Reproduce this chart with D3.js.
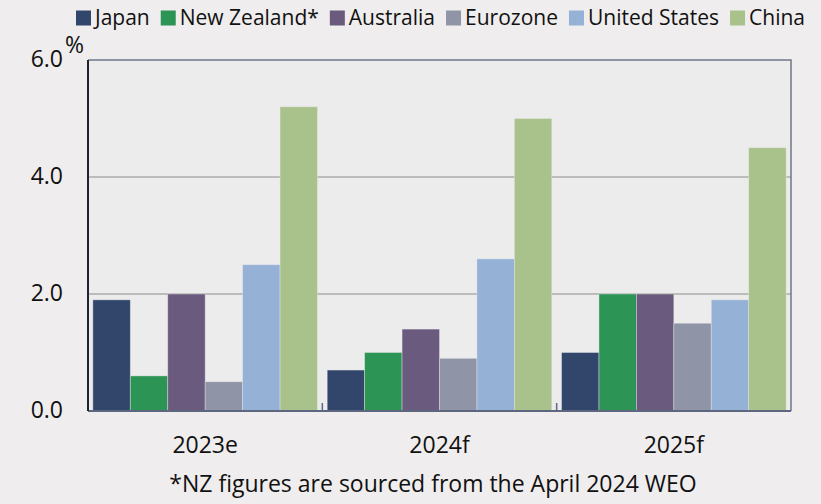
<!DOCTYPE html>
<html>
<head>
<meta charset="utf-8">
<script src="https://cdn.jsdelivr.net/npm/d3@7"></script>
<style>
  body { margin: 0; background: #efeded; }
  svg { display: block; font-family: "Open Sans", sans-serif; }
</style>
</head>
<body>
<svg id="chart" width="821" height="504"></svg>
<script>
// Data
var years = ["2023e", "2024f", "2025f"];
var economies = ["Japan", "New Zealand*", "Australia", "Eurozone", "United States", "China"];
var colours = ["#32466b", "#2c9556", "#6a5a7e", "#8f95a6", "#95b1d6", "#a9c28b"];
var japan = [1.9, 0.7, 1.0];
var newZealand = [0.6, 1.0, 2.0];
var australia = [2.0, 1.4, 2.0];
var eurozone = [0.5, 0.9, 1.5];
var unitedStates = [2.5, 2.6, 1.9];
var china = [5.2, 5.0, 4.5];
var yTicks = [0, 2, 4, 6];

var series = [japan, newZealand, australia, eurozone, unitedStates, china];

var svg = d3.select("#chart");
var margin = { left: 88, right: 30, top: 60, bottom: 93 };
var width = 821 - margin.left - margin.right;
var height = 504 - margin.top - margin.bottom;

// Background
svg.append("rect").attr("width", 821).attr("height", 504).attr("fill", "#efeded");

var g = svg.append("g").attr("transform", "translate(" + margin.left + "," + margin.top + ")");

var x0 = d3.scaleBand().domain(years).range([0, width]);
var x1 = d3.scaleBand().domain(economies)
  .range([0, x0.bandwidth()]).paddingOuter(0.13);
var y = d3.scaleLinear().domain([0, 6]).range([height, 0]);

// Plot area
g.append("rect")
  .attr("width", width)
  .attr("height", height)
  .attr("fill", "#ececec");

// Gridlines
g.selectAll(".grid")
  .data(yTicks.filter(function(d) { return d > 0 && d < 6; }))
  .enter().append("line")
  .attr("x1", 0).attr("x2", width)
  .attr("y1", function(d) { return y(d); })
  .attr("y2", function(d) { return y(d); })
  .attr("stroke", "#adadad")
  .attr("stroke-width", 1.5);

// Bars
var group = g.selectAll(".year")
  .data(years)
  .enter().append("g")
  .attr("transform", function(d) { return "translate(" + x0(d) + ",0)"; });

group.selectAll("rect")
  .data(function(d, i) {
    return economies.map(function(e, j) { return { key: e, idx: j, value: series[j][i] }; });
  })
  .enter().append("rect")
  .attr("x", function(d) { return x1(d.key); })
  .attr("width", x1.bandwidth())
  .attr("y", function(d) { return y(d.value); })
  .attr("height", function(d) { return height - y(d.value); })
  .attr("fill", function(d) { return colours[d.idx]; })
  .attr("stroke", "rgba(235,235,240,0.5)")
  .attr("stroke-width", 0.8);

// Frame: top and right borders
g.append("path")
  .attr("d", "M0,0H" + width + "V" + height)
  .attr("fill", "none")
  .attr("stroke", "#6f7787")
  .attr("stroke-width", 1.5);

// X axis with ticks on category boundaries
g.append("line")
  .attr("x1", 0).attr("x2", width)
  .attr("y1", height).attr("y2", height)
  .attr("stroke", "#5d6880")
  .attr("stroke-width", 2);

g.selectAll(".xtick")
  .data(years.slice(1))
  .enter().append("line")
  .attr("x1", function(d) { return x0(d); })
  .attr("x2", function(d) { return x0(d); })
  .attr("y1", height).attr("y2", height - 8)
  .attr("stroke", "#5d6880")
  .attr("stroke-width", 1.5);

g.selectAll(".xlabel")
  .data(years)
  .enter().append("text")
  .attr("x", function(d) { return x0(d) + x0.bandwidth() / 2; })
  .attr("y", height + 42)
  .attr("text-anchor", "middle")
  .attr("font-size", 23)
  .attr("fill", "#111")
  .text(function(d) { return d; });

// Y axis
g.append("line")
  .attr("x1", 0).attr("x2", 0)
  .attr("y1", 0).attr("y2", height)
  .attr("stroke", "#1d2330")
  .attr("stroke-width", 2);

g.selectAll(".ylabel")
  .data(yTicks)
  .enter().append("text")
  .attr("x", -25)
  .attr("y", function(d) { return y(d); })
  .attr("dy", "0.3em")
  .attr("text-anchor", "end")
  .attr("font-size", 23)
  .attr("fill", "#111")
  .text(function(d) { return d.toFixed(1); });

g.append("text")
  .attr("x", -23)
  .attr("y", -7)
  .attr("font-size", 23)
  .attr("fill", "#111")
  .text("%");

// Legend, spread to the reference's overall width
var legend = svg.append("g").attr("transform", "translate(76,0)");
var items = economies.map(function(e, i) {
  var item = legend.append("g");
  item.append("rect")
    .attr("width", 15).attr("height", 15)
    .attr("y", 10.5)
    .attr("fill", colours[i]);
  var t = item.append("text")
    .attr("x", 19)
    .attr("y", 25)
    .attr("font-size", 21)
    .attr("fill", "#111")
    .text(e);
  return { node: item, w: 19 + t.node().getComputedTextLength() };
});
var legendWidth = 729;
var gap = (legendWidth - d3.sum(items, function(d) { return d.w; })) / (items.length - 1);
var lx = 0;
items.forEach(function(d) {
  d.node.attr("transform", "translate(" + lx + ",0)");
  lx += d.w + gap;
});

// Footnote
svg.append("text")
  .attr("x", 433)
  .attr("y", 492)
  .attr("text-anchor", "middle")
  .attr("font-size", 23)
  .attr("fill", "#111")
  .text("*NZ figures are sourced from the April 2024 WEO");
</script>
</body>
</html>
